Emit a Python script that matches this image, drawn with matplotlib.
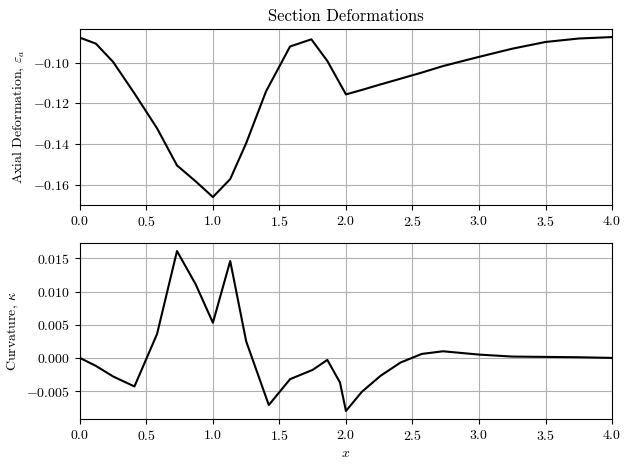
import matplotlib
matplotlib.use("Agg")
import matplotlib.pyplot as plt

plt.rcParams['font.family'] = 'serif'
plt.rcParams['font.serif'] = ['cmr10']
plt.rcParams['mathtext.fontset'] = 'cm'
plt.rcParams['axes.formatter.use_mathtext'] = True
plt.rcParams['axes.unicode_minus'] = True

x_axial = [0.0, 0.12, 0.25, 0.41, 0.58, 0.73, 0.87, 1.0, 1.13, 1.25, 1.40, 1.58, 1.74, 1.86, 1.96, 2.0,
           2.12, 2.26, 2.41, 2.57, 2.73, 3.0, 3.25, 3.5, 3.75, 4.0]
eps_a = [-0.0878, -0.0907, -0.0997, -0.1151, -0.1322, -0.1504, -0.1582, -0.1659, -0.1571, -0.1395,
         -0.1140, -0.0921, -0.0886, -0.0992, -0.1109, -0.1156,
         -0.1134, -0.1107, -0.1079, -0.1049, -0.1017, -0.0972, -0.0932, -0.0899, -0.0882, -0.0875]

x_curv = [0.0, 0.12, 0.25, 0.41, 0.58, 0.73, 0.87, 1.0, 1.13, 1.25, 1.42, 1.58, 1.75, 1.86, 1.955, 2.0,
          2.12, 2.26, 2.41, 2.57, 2.73, 3.0, 3.25, 3.5, 3.75, 4.0]
kappa = [0.0000, -0.0012, -0.0028, -0.0043, 0.0036, 0.0161, 0.0111, 0.0053, 0.0146, 0.0025,
         -0.0071, -0.0032, -0.0018, -0.0003, -0.0037, -0.0080,
         -0.0051, -0.0027, -0.0007, 0.0006, 0.0010, 0.0005, 0.0002, 0.00015, 0.0001, 0.0]

fig, (ax1, ax2) = plt.subplots(2, 1, figsize=(6.29, 4.69), dpi=100)
fig.subplots_adjust(left=0.127, right=0.973, top=0.938, bottom=0.1066, hspace=0.216)

ax1.plot(x_axial, eps_a, color='black', lw=1.5)
ax1.set_xlim(0, 4)
ax1.set_title('Section Deformations')
ax1.set_ylabel(r'Axial Deformation, $\varepsilon_a$')
ax1.grid(True)

ax2.plot(x_curv, kappa, color='black', lw=1.5)
ax2.set_xlim(0, 4)
ax2.set_ylabel(r'Curvature, $\kappa$')
ax2.set_xlabel(r'$x$')
ax2.grid(True)

fig.savefig('out.png', dpi=100)
